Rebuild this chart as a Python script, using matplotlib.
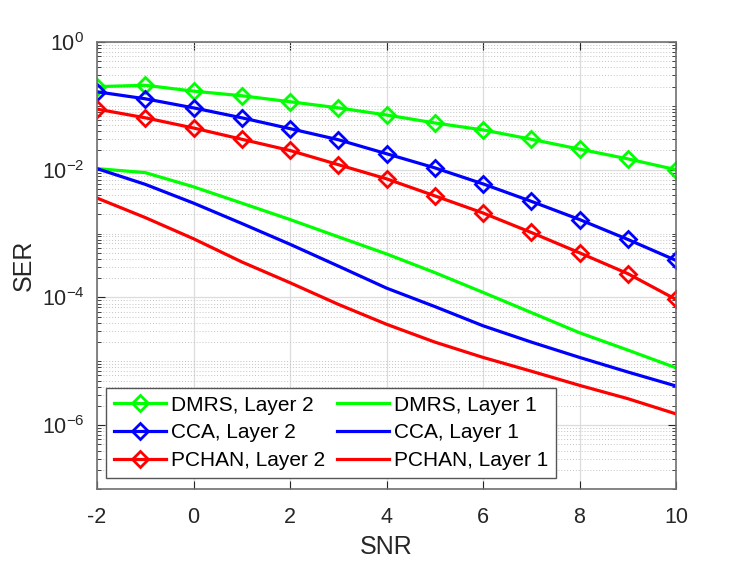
import numpy as np
import matplotlib
matplotlib.use("Agg")
import matplotlib.pyplot as plt
from matplotlib.ticker import FixedLocator, LogLocator, NullFormatter

plt.rcParams['font.family'] = ['Liberation Sans', 'DejaVu Sans']
plt.rcParams['mathtext.fontset'] = 'custom'
plt.rcParams['mathtext.rm'] = 'Liberation Sans'
plt.rcParams['mathtext.it'] = 'Liberation Sans:italic'
plt.rcParams['mathtext.default'] = 'regular'

snr = [-2, -1, 0, 1, 2, 3, 4, 5, 6, 7, 8, 9, 10]

# Layer 2 (with diamond markers)
dmrs_l2 = [0.20, 0.21, 0.17, 0.144, 0.116, 0.093, 0.072, 0.054, 0.042, 0.030, 0.021, 0.0148, 0.0100]
cca_l2 = [0.166, 0.129, 0.093, 0.065, 0.044, 0.0295, 0.0178, 0.0107, 0.0060, 0.0032, 0.00166, 0.00081, 0.00038]
pchan_l2 = [0.089, 0.065, 0.045, 0.030, 0.020, 0.012, 0.0072, 0.0039, 0.0021, 0.00104, 0.00050, 0.000236, 0.000093]

# Layer 1 (plain lines)
dmrs_l1 = [0.0104, 0.0090, 0.0054, 0.0030, 0.00166, 0.00089, 0.00048, 0.000245, 0.00012, 5.8e-5, 2.8e-5, 1.5e-5, 7.9e-6]
cca_l1 = [0.0104, 0.0059, 0.0030, 0.00144, 0.00068, 0.00031, 0.00014, 7.2e-5, 3.6e-5, 2.0e-5, 1.15e-5, 6.8e-6, 4.1e-6]
pchan_l1 = [0.0036, 0.00178, 0.00083, 0.00036, 0.00017, 7.8e-5, 3.8e-5, 2.0e-5, 1.15e-5, 7.0e-6, 4.2e-6, 2.6e-6, 1.5e-6]

x_ticks = [-2, 0, 2, 4, 6, 8, 10]
y_ticks = [1e-6, 1e-4, 1e-2, 1e0]
y_tick_labels = [r'$10^{-6}$', r'$10^{-4}$', r'$10^{-2}$', r'$10^{0}$']

green = (0, 1, 0)
blue = (0, 0, 1)
red = (1, 0, 0)

fig = plt.figure(figsize=(7.47, 5.61), dpi=100)
ax = fig.add_axes([97 / 747, 1 - 489 / 561, 579 / 747, 447 / 561])

mk = dict(marker='D', markersize=8, markeredgewidth=2, markerfacecolor='none', lw=2.3)
ax.plot(snr, dmrs_l2, color=green, label='DMRS, Layer 2', **mk)
ax.plot(snr, cca_l2, color=blue, label='CCA, Layer 2', **mk)
ax.plot(snr, pchan_l2, color=red, label='PCHAN, Layer 2', **mk)
ax.plot(snr, dmrs_l1, color=green, lw=2.3, label='DMRS, Layer 1')
ax.plot(snr, cca_l1, color=blue, lw=2.3, label='CCA, Layer 1')
ax.plot(snr, pchan_l1, color=red, lw=2.3, label='PCHAN, Layer 1')

ax.set_yscale('log')
ax.set_xlim(-2, 10)
ax.set_ylim(1e-7, 1e0)
ax.set_xticks(x_ticks)
ax.set_xticklabels([str(t) for t in x_ticks])
ax.yaxis.set_major_locator(FixedLocator(y_ticks))
ax.set_yticklabels(y_tick_labels)
ax.yaxis.set_minor_locator(LogLocator(base=10, subs=np.arange(1, 10), numticks=20))
ax.yaxis.set_minor_formatter(NullFormatter())

ax.grid(True, which='major', color='#dcdcdc', lw=0.9, ls='-')
ax.grid(True, which='minor', axis='y', color='#c4c4c4', lw=0.7, ls=(0, (1, 2)))
ax.set_axisbelow(True)

ax.tick_params(which='both', direction='in', top=True, right=True, colors='#262626',
               labelsize=15.5)
ax.tick_params(axis='x', pad=13)
ax.tick_params(axis='y', pad=9)
ax.tick_params(which='major', length=6, width=0.8)
ax.tick_params(which='minor', length=3, width=0.6)
for sp in ax.spines.values():
    sp.set_color('#707070')
    sp.set_linewidth(1.2)

ax.set_xlabel('SNR', fontsize=18, color='#262626', labelpad=5)
ax.set_ylabel('SER', fontsize=18, color='#262626', labelpad=4)

leg = ax.legend(ncol=2, loc='lower left', bbox_to_anchor=(9 / 579, 11 / 447),
                borderaxespad=0, fontsize=15, handlelength=2.5, handletextpad=0.25,
                columnspacing=0.55, labelspacing=0.42, borderpad=0.38,
                fancybox=False, framealpha=1)
leg.get_frame().set_edgecolor('#555555')
leg.get_frame().set_linewidth(1.0)

fig.savefig('out.png', dpi=100)
